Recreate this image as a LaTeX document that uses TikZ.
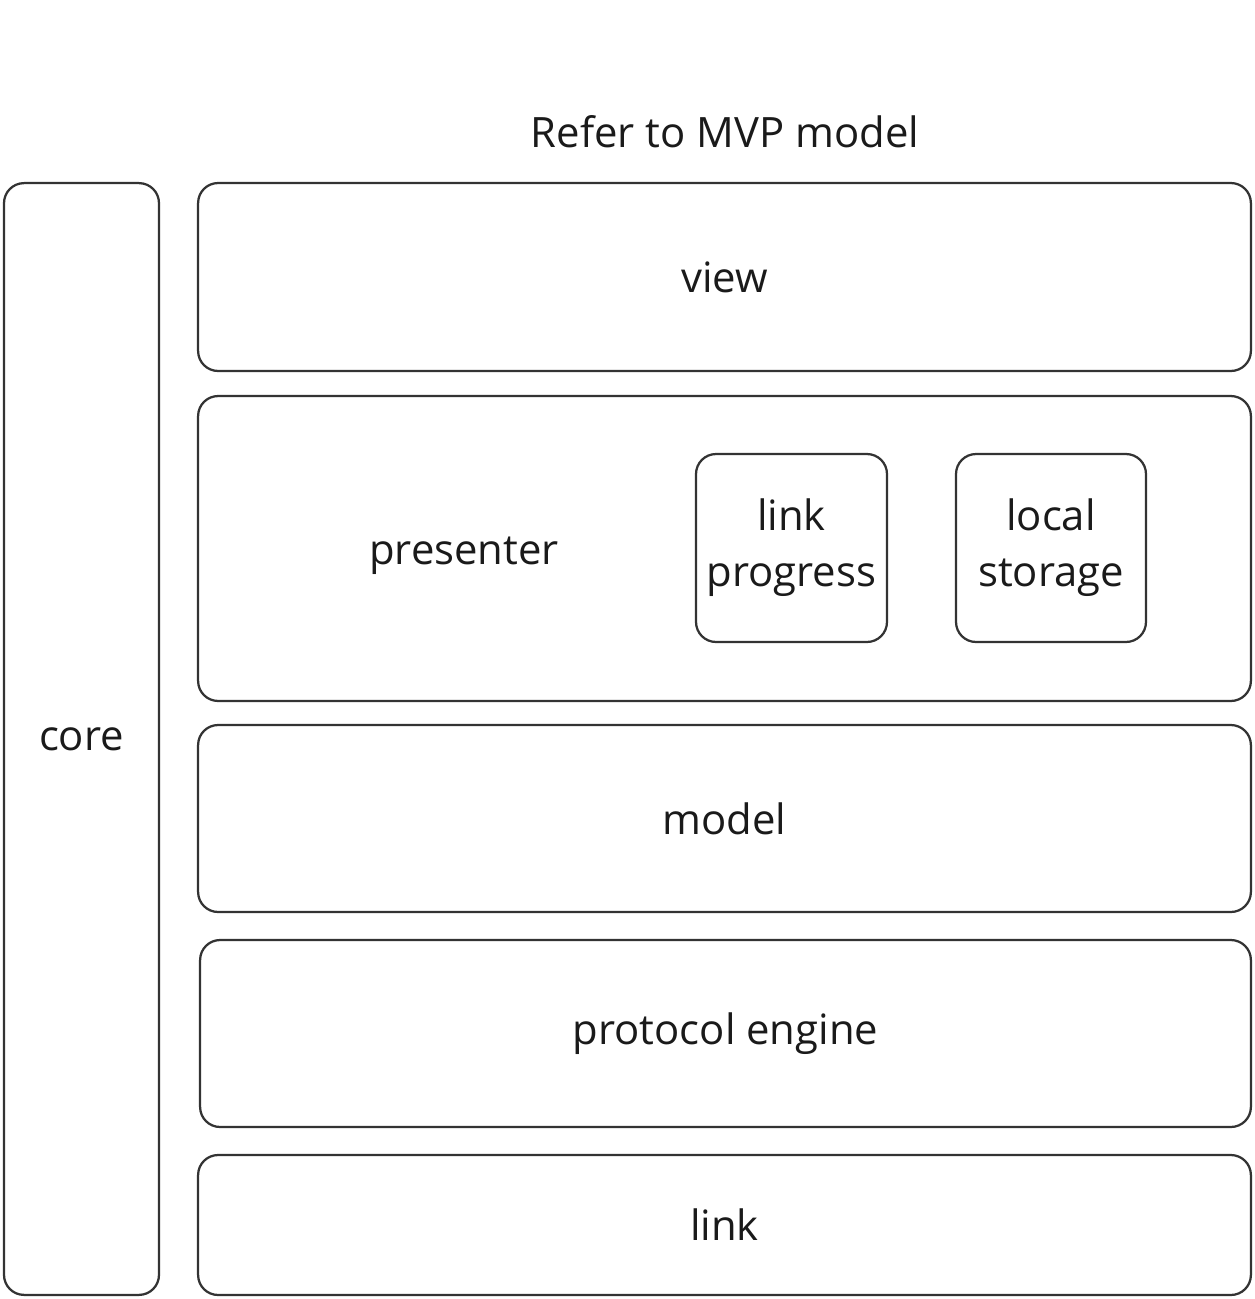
\documentclass[tikz,border=0pt]{standalone}
\usepackage{fontspec}
\setmainfont{Open Sans}
\definecolor{edge}{HTML}{333333}
\definecolor{ink}{HTML}{1A1A1A}
\tikzset{
  layer/.style={draw=edge, line width=0.045cm, rounded corners=0.4cm, inner sep=0pt, outer sep=0pt, text=ink},
  label/.style={text=ink, inner sep=0pt}
}
\begin{document}
\begin{tikzpicture}[x=0.02cm, y=-0.02cm, font=\fontsize{23.8}{32}\selectfont]
    \useasboundingbox (0, 0) rectangle (1255, 1299);

    \node[label] (title) at (725, 132) {Refer to MVP model};

    \node[layer, minimum width=3.1cm, minimum height=22.24cm] (core) at (81.5, 739) {core};

    \node[layer, minimum width=21.06cm, minimum height=3.76cm] (view) at (724.5, 277) {view};

    \node[layer, minimum width=21.06cm, minimum height=6.1cm] (presenter) at (724.5, 548.5) {};
    \node[label] (presentertext) at (464, 556) {presenter};
    \node[layer, align=center, minimum width=3.82cm, minimum height=3.76cm] (linkprogress) at (791.5, 548) {link\\progress};
    \node[layer, align=center, minimum width=3.8cm, minimum height=3.76cm] (localstorage) at (1051, 548) {local\\storage};

    \node[layer, minimum width=21.06cm, minimum height=3.74cm] (model) at (724.5, 818.5) {model};
    \node[layer, minimum width=21.02cm, minimum height=3.74cm] (engine) at (725.5, 1033.5) {protocol engine};
    \node[layer, minimum width=21.06cm, minimum height=2.8cm] (link) at (724.5, 1225) {link};
\end{tikzpicture}
\end{document}
